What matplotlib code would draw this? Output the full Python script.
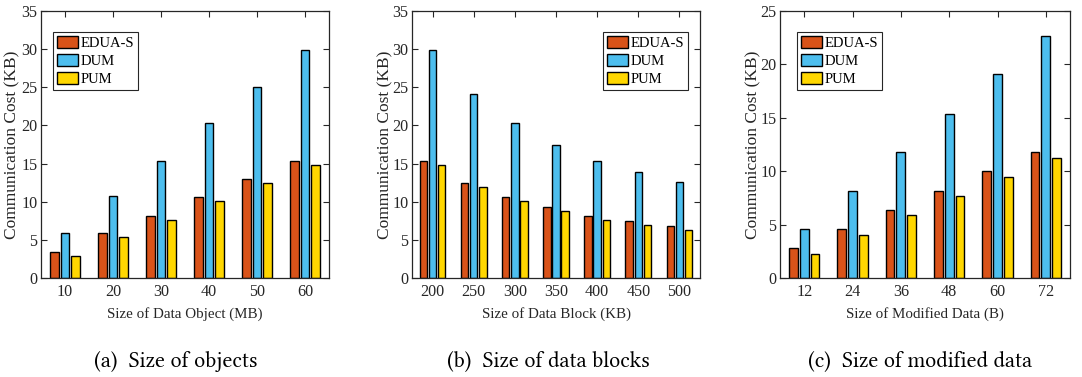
import numpy as np
import matplotlib
matplotlib.use("Agg")
import matplotlib.pyplot as plt
from matplotlib import font_manager

# -------------------------------
# Data
# -------------------------------
series_names = ["EDUA-S", "DUM", "PUM"]
colors = ["#D95319", "#4DBEEE", "#FFD700"]

obj_labels = ["10", "20", "30", "40", "50", "60"]
obj_edua = [3.4, 5.9, 8.1, 10.6, 13.0, 15.35]
obj_dum = [5.9, 10.75, 15.35, 20.3, 25.0, 29.9]
obj_pum = [2.85, 5.4, 7.6, 10.1, 12.45, 14.8]

blk_labels = ["200", "250", "300", "350", "400", "450", "500"]
blk_edua = [15.35, 12.45, 10.6, 9.3, 8.1, 7.45, 6.8]
blk_dum = [29.9, 24.1, 20.3, 17.4, 15.35, 13.9, 12.6]
blk_pum = [14.8, 11.9, 10.1, 8.8, 7.6, 6.95, 6.3]

mod_labels = ["12", "24", "36", "48", "60", "72"]
mod_edua = [2.8, 4.6, 6.35, 8.15, 10.0, 11.8]
mod_dum = [4.6, 8.15, 11.8, 15.35, 19.1, 22.7]
mod_pum = [2.25, 4.0, 5.9, 7.7, 9.45, 11.25]


def first_font(candidates):
    for name in candidates:
        try:
            font_manager.findfont(name, fallback_to_default=False)
            return name
        except Exception:
            pass
    return 'DejaVu Serif'


caption_font = first_font(['Linux Libertine O', 'Linux Libertine', 'Libertinus Serif',
                           'Liberation Serif'])

plt.rcParams['font.family'] = ['Liberation Serif', 'DejaVu Serif']
plt.rcParams['font.size'] = 10.5

fig = plt.figure(figsize=(10.82, 3.77), dpi=100)
W, H = 1082, 377
TXT = '#262626'


def px_axes(left, right, top, bottom):
    return fig.add_axes([left / W, (H - bottom) / H, (right - left) / W, (bottom - top) / H])


def grouped(ax, labels, values, ymax, xlabel, legend_loc, ylab_x):
    x = np.arange(1, len(labels) + 1)
    offset = 0.222
    width = 0.18
    for i, (vals, name, c) in enumerate(zip(values, series_names, colors)):
        ax.bar(x + (i - 1) * offset, vals, width, color=c, edgecolor='black',
               linewidth=1.0, label=name)
    ax.set_axisbelow(True)
    ax.set_xlim(0.5, len(labels) + 0.5)
    ax.set_ylim(0, ymax)
    ax.set_xticks(x)
    ax.set_xticklabels(labels)
    ax.set_yticks(np.arange(0, ymax + 1, 5))
    ax.tick_params(direction='in', top=True, right=True, length=4, width=0.8,
                   labelsize=11.6, colors=TXT, pad=2.5)
    ax.tick_params(axis='x', pad=4.5)
    for sp in ax.spines.values():
        sp.set_linewidth(0.9)
        sp.set_color(TXT)
        sp.set_zorder(3)
    ax.set_xlabel(xlabel, fontsize=10.8, color=TXT, labelpad=5)
    ax.set_ylabel("Communication Cost (KB)", fontsize=12.5, color=TXT)
    ax.yaxis.set_label_coords(ylab_x, 0.5)
    leg = ax.legend(loc='upper left', bbox_to_anchor=legend_loc, fontsize=10.5,
                    fancybox=False, edgecolor=TXT, framealpha=1,
                    handlelength=1.45, handleheight=0.9, handletextpad=0.2,
                    borderpad=0.25, labelspacing=0.28, borderaxespad=0)
    leg.get_frame().set_linewidth(0.8)
    return ax


ax1 = px_axes(41, 329, 11, 278)
grouped(ax1, obj_labels, [obj_edua, obj_dum, obj_pum], 35,
        "Size of Data Object (MB)", (12 / 288, 1 - 21 / 267), -21 / 288)

ax2 = px_axes(412, 700, 11, 278)
grouped(ax2, blk_labels, [blk_edua, blk_dum, blk_pum], 35,
        "Size of Data Block (KB)", (191 / 288, 1 - 21 / 267), -19 / 288)

ax3 = px_axes(780, 1070, 11, 278)
grouped(ax3, mod_labels, [mod_edua, mod_dum, mod_pum], 25,
        "Size of Modified Data (B)", (17 / 290, 1 - 21 / 267), -19 / 290)

# -------------------------------
# Captions
# -------------------------------
for xc, txt in [(176, "(a)  Size of objects"), (548, "(b)  Size of data blocks"),
                (920, "(c)  Size of modified data")]:
    fig.text(xc / W, 1 - 362 / H, txt, ha='center', va='center', fontsize=16,
             family=[caption_font, 'DejaVu Serif'])

fig.savefig("out.png", dpi=100)
